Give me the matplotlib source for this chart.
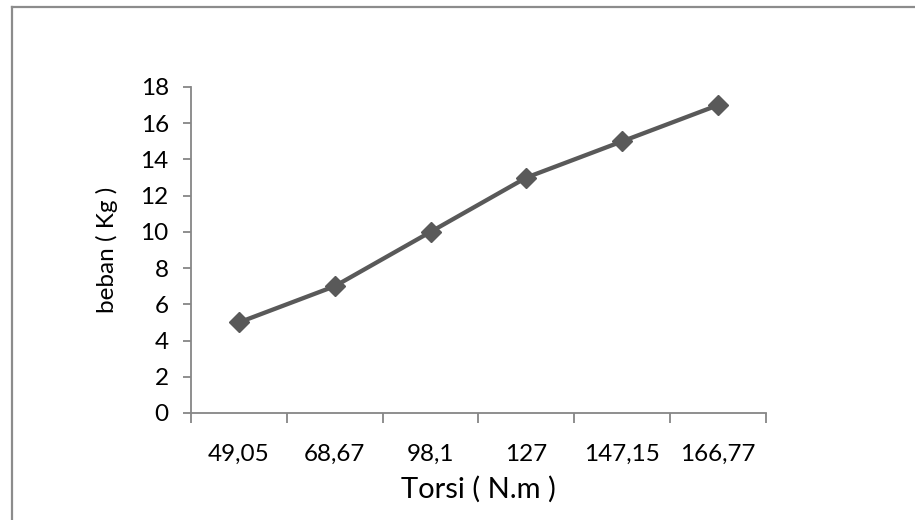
import matplotlib
matplotlib.use("Agg")
import matplotlib.pyplot as plt
from matplotlib.lines import Line2D

# data
torsi = ["49,05", "68,67", "98,1", "127", "147,15", "166,77"]
beban = [5, 7, 10, 13, 15, 17]
y_ticks = [0, 2, 4, 6, 8, 10, 12, 14, 16, 18]

plt.rcParams["font.family"] = ["Lato", "DejaVu Sans"]

fig = plt.figure(figsize=(9.15, 5.2), dpi=100)
ax = fig.add_axes([0.2087, 0.2058, 0.6285, 0.6269])

x = range(len(torsi))
ax.plot(x, beban, color="#595959", linewidth=3.1, marker="D", markersize=10,
        markerfacecolor="#595959", markeredgecolor="#595959")

ax.set_xlim(-0.5, len(torsi) - 0.5)
ax.set_ylim(0, 18)
ax.set_yticks(y_ticks)
ax.set_xticks(list(x))
ax.set_xticklabels(torsi)
ax.set_xticks([i - 0.5 for i in range(len(torsi) + 1)], minor=True)

for side in ["top", "right"]:
    ax.spines[side].set_visible(False)
for side in ["left", "bottom"]:
    ax.spines[side].set_color("#868686")
    ax.spines[side].set_linewidth(1.3)

ax.tick_params(axis="x", which="major", length=0, pad=22, labelsize=17.5)
ax.tick_params(axis="x", which="minor", length=7, width=1.3, color="#868686")
ax.tick_params(axis="y", length=6, width=1.3, color="#868686", pad=10, labelsize=17.5)

ax.set_xlabel("Torsi ( N.m )", fontsize=21, labelpad=8)
ax.set_ylabel("beban ( Kg )", fontsize=17.5, labelpad=16)

# outer frame (top and left edges visible)
fig.add_artist(Line2D([12 / 915, 1], [1 - 7 / 520, 1 - 7 / 520],
                      transform=fig.transFigure, color="#8c8c8c", linewidth=1.6))
fig.add_artist(Line2D([12 / 915, 12 / 915], [0, 1 - 7 / 520],
                      transform=fig.transFigure, color="#8c8c8c", linewidth=1.6))

fig.savefig("out.png", dpi=100)
